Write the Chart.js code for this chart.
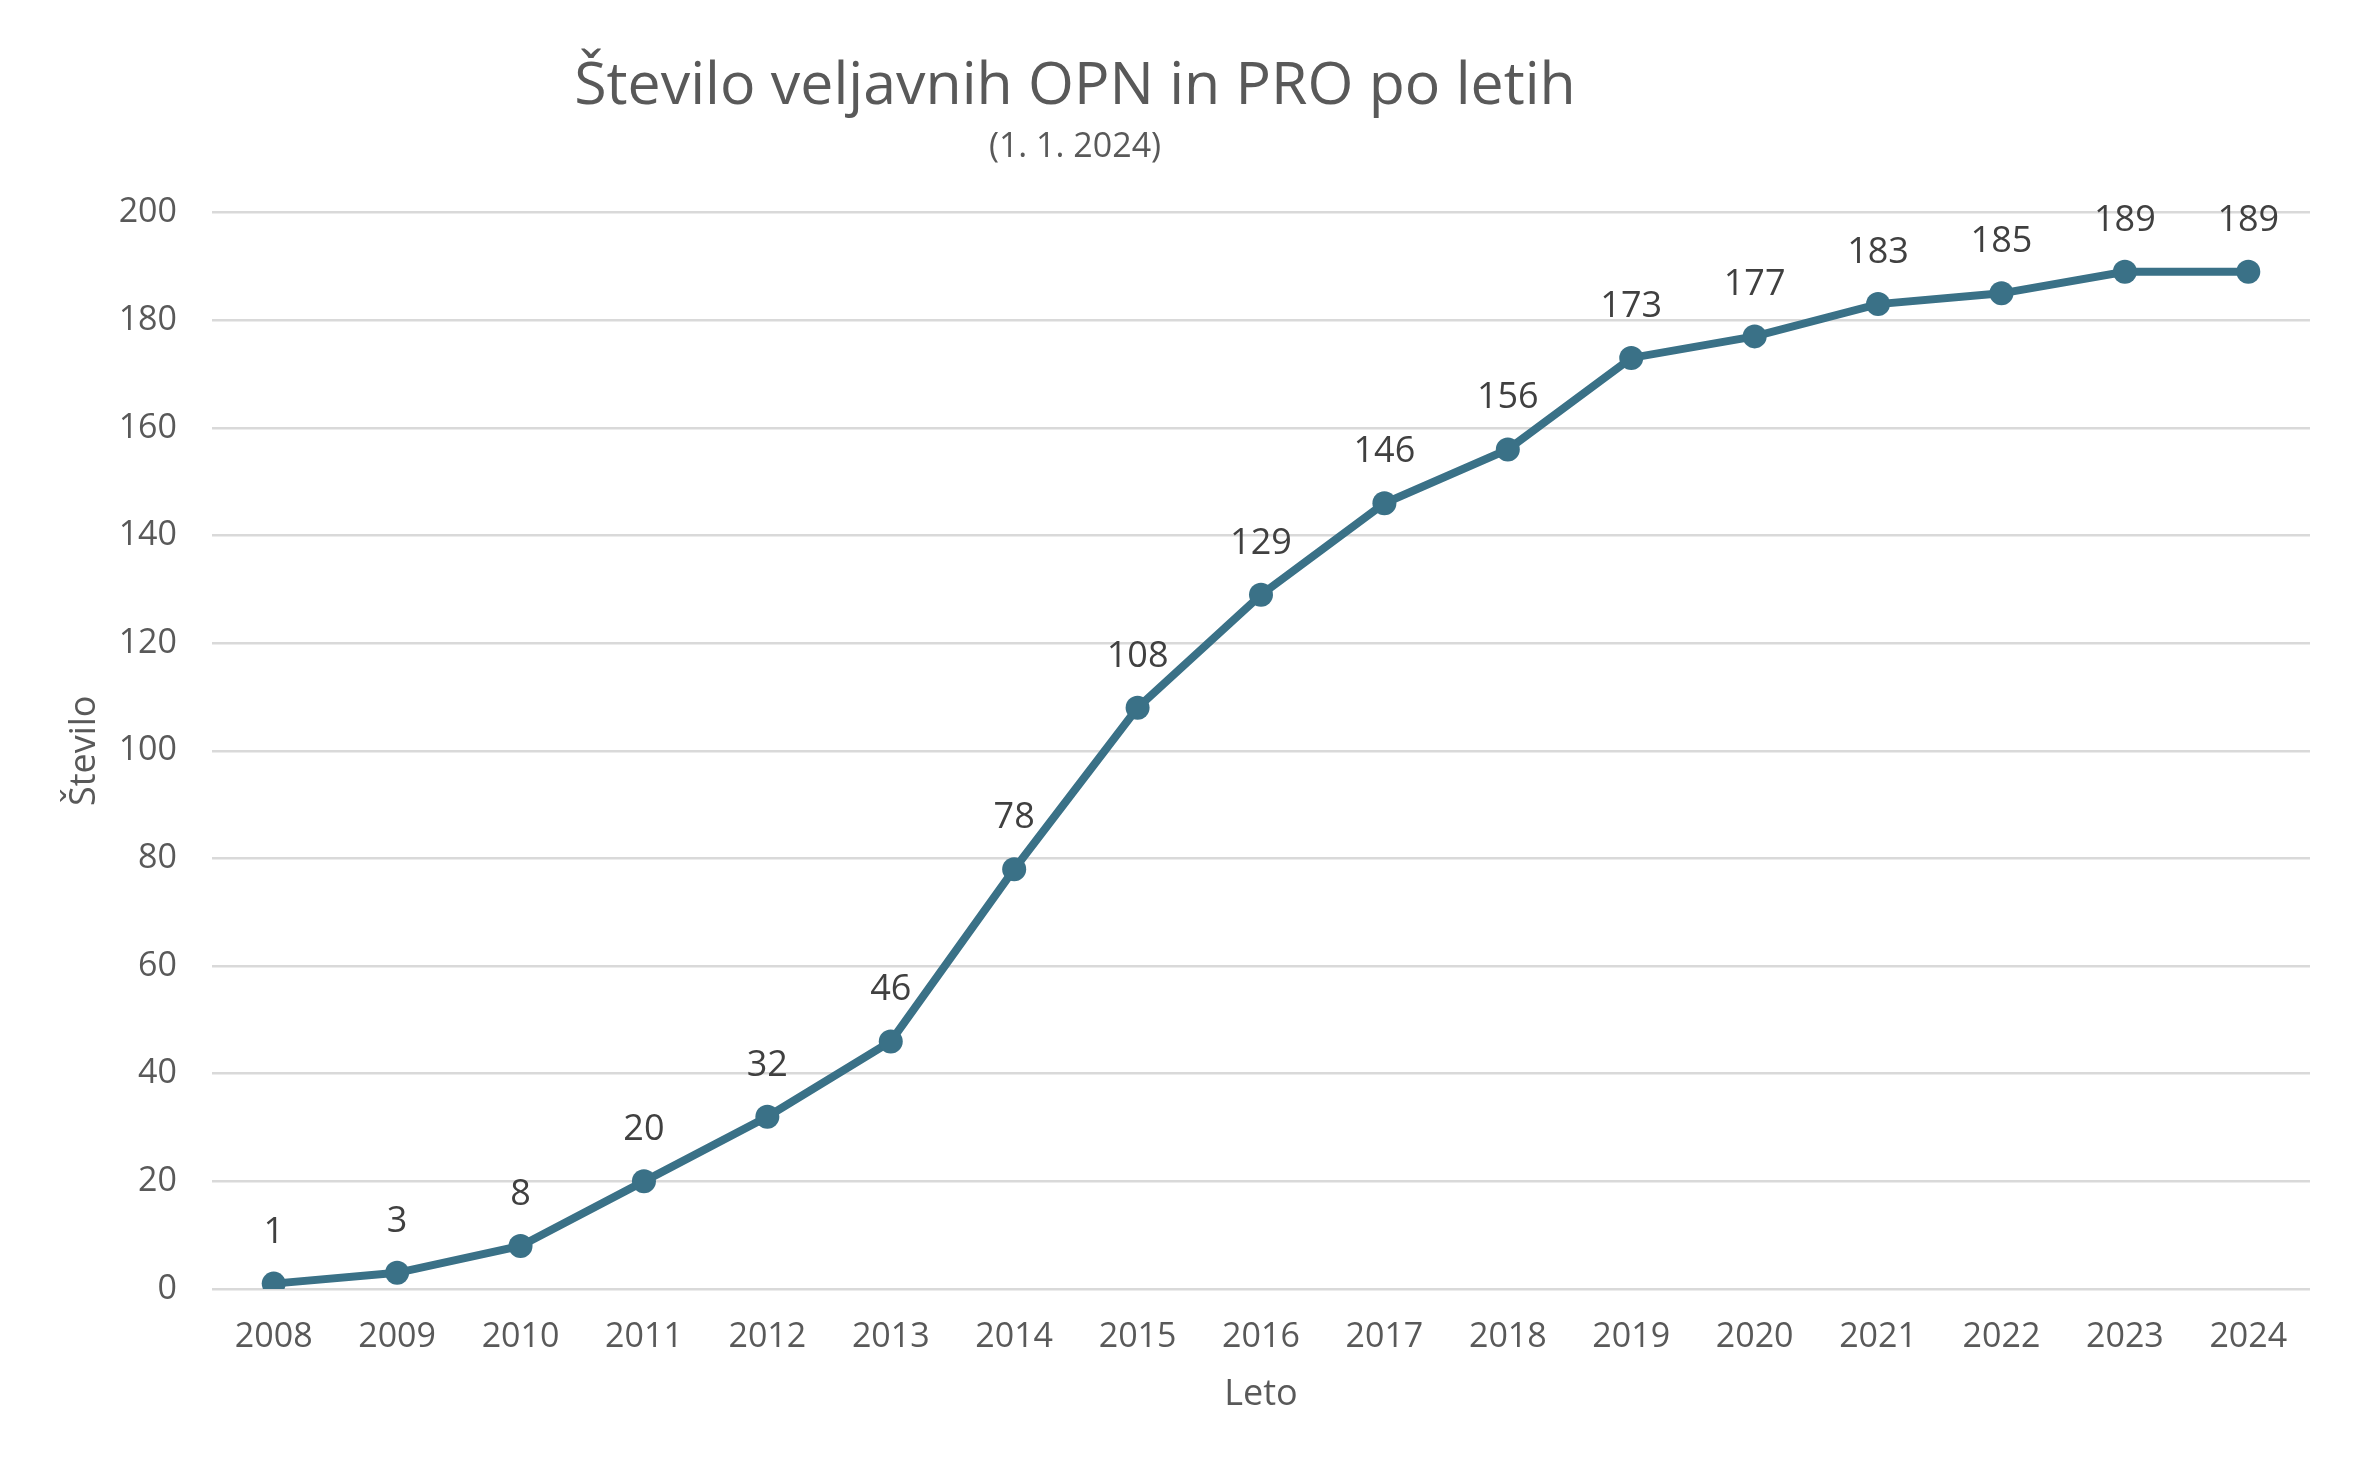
<!DOCTYPE html>
<html>
<head>
<meta charset="utf-8">
<style>
  html, body { margin: 0; padding: 0; background: #ffffff; }
  #wrap { width: 2361px; height: 1472px; }
</style>
<script src="https://cdn.jsdelivr.net/npm/chart.js@4.4.1/dist/chart.umd.min.js"></script>
</head>
<body>
<div id="wrap"><canvas id="c" width="2361" height="1472"></canvas></div>
<script>
const years = ['2008','2009','2010','2011','2012','2013','2014','2015','2016','2017','2018','2019','2020','2021','2022','2023','2024'];
const counts = [1, 3, 8, 20, 32, 46, 78, 108, 129, 146, 156, 173, 177, 183, 185, 189, 189];
const yTicks = [0, 20, 40, 60, 80, 100, 120, 140, 160, 180, 200];
const titleText = 'Število veljavnih OPN in PRO po letih';
const subtitleText = '(1. 1. 2024)';
const xTitle = 'Leto';
const yTitle = 'Število';

const FONT = "'Open Sans', 'Noto Sans', 'DejaVu Sans', sans-serif";
const LINE_COLOR = '#3a7187';
const TEXT_GREY = '#595959';

const pointLabels = {
  id: 'pointLabels',
  afterDatasetsDraw(chart) {
    const ctx = chart.ctx;
    const meta = chart.getDatasetMeta(0);
    ctx.save();
    ctx.font = "36px " + FONT;
    ctx.fillStyle = '#404040';
    ctx.textAlign = 'center';
    ctx.textBaseline = 'alphabetic';
    meta.data.forEach((pt, i) => {
      const v = chart.data.datasets[0].data[i];
      ctx.fillText(String(v), pt.x, pt.y - 41);
    });
    ctx.restore();
  }
};

const shiftTitles = {
  id: 'shiftTitles',
  afterLayout(chart) {
    const centre = 1075;
    chart.boxes.forEach(b => {
      if (b.options && typeof b.options.text === 'string' && b.options.text.length) {
        const half = (b.right - b.left) / 2;
        b.left = centre - half;
        b.right = centre + half;
      }
    });
  }
};

new Chart(document.getElementById('c'), {
  type: 'line',
  data: {
    labels: years,
    datasets: [{
      data: counts,
      borderColor: LINE_COLOR,
      backgroundColor: LINE_COLOR,
      borderWidth: 8,
      pointRadius: 12,
      pointHoverRadius: 12,
      pointBorderWidth: 0,
      pointBackgroundColor: LINE_COLOR,
      tension: 0,
      fill: false
    }]
  },
  options: {
    responsive: false,
    animation: false,
    devicePixelRatio: 1,
    layout: { padding: { left: 0, right: 51, top: 0, bottom: 0 } },
    plugins: {
      legend: { display: false },
      tooltip: { enabled: false },
      title: {
        display: true,
        text: titleText,
        color: TEXT_GREY,
        font: { family: FONT, size: 59, weight: 'normal' },
        padding: { top: 52, bottom: 0 }
      },
      subtitle: {
        display: true,
        text: subtitleText,
        color: TEXT_GREY,
        font: { family: FONT, size: 34, weight: 'normal' },
        padding: { top: 4, bottom: 45 }
      }
    },
    scales: {
      x: {
        type: 'category',
        offset: true,
        grid: { display: false, drawTicks: false },
        border: { display: false },
        ticks: {
          color: TEXT_GREY,
          font: { family: FONT, size: 34 },
          padding: 28,
          maxRotation: 0,
          autoSkip: false
        },
        title: {
          display: true,
          text: xTitle,
          color: TEXT_GREY,
          font: { family: FONT, size: 36 },
          padding: { top: 15, bottom: 56 }
        },
        afterFit(scale) { scale.height = 183; }
      },
      y: {
        min: 0,
        max: 200,
        afterBuildTicks(scale) { scale.ticks = yTicks.map(v => ({ value: v })); },
        grid: { color: '#d9d9d9', lineWidth: 2.5, drawTicks: false },
        border: { display: false },
        ticks: {
          color: TEXT_GREY,
          font: { family: FONT, size: 34 },
          padding: 35
        },
        title: {
          display: true,
          text: yTitle,
          color: TEXT_GREY,
          font: { family: FONT, size: 36 },
          padding: { top: 63, bottom: 12 }
        },
        afterFit(scale) { scale.width = 212; }
      }
    }
  },
  plugins: [pointLabels, shiftTitles]
});
</script>
</body>
</html>
